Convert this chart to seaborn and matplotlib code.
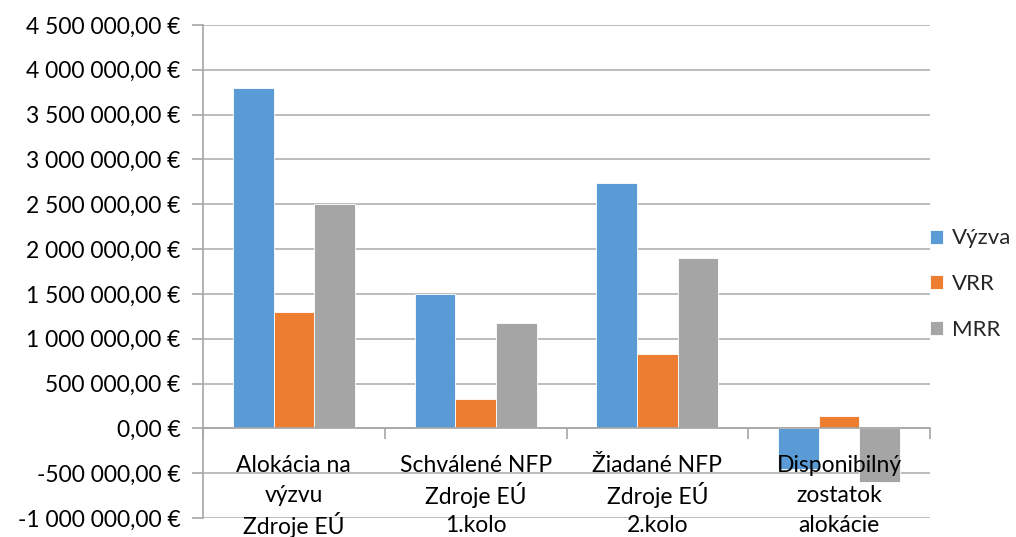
import matplotlib
matplotlib.use("Agg")
import matplotlib.pyplot as plt
import seaborn as sns
import pandas as pd
from matplotlib.ticker import FuncFormatter, MultipleLocator, FixedLocator

categories = ["Alokácia na\nvýzvu\nZdroje EÚ",
              "Schválené NFP\nZdroje EÚ\n1.kolo",
              "Žiadané NFP\nZdroje EÚ\n2.kolo",
              "Disponibilný\nzostatok\nalokácie"]
series = ["Výzva", "VRR", "MRR"]
vyzva = [3795000, 1500000, 2734000, -455000]
vrr = [1297000, 325000, 826000, 140000]
mrr = [2500000, 1172000, 1904000, -598000]
colors = ["#5B9BD5", "#ED7D31", "#A5A5A5"]

rows = []
for s, vals in zip(series, [vyzva, vrr, mrr]):
    for c, v in zip(categories, vals):
        rows.append({"cat": c, "series": s, "value": v})
df = pd.DataFrame(rows)

sns.set_style("white")
plt.rcParams["font.family"] = ["Lato", "DejaVu Sans"]

fig = plt.figure(figsize=(10.16, 5.37), dpi=100)
ax = fig.add_axes([203/1016, 1-518/537, (930-203)/1016, (518-25)/537])

sns.barplot(data=df, x="cat", y="value", hue="series", order=categories,
            hue_order=series, palette=colors, width=0.67, gap=0,
            saturation=1, ax=ax, errorbar=None, edgecolor="white", linewidth=0.6)

ax.set_ylim(-1000000, 4500000)
ax.set_xlim(-0.5, 3.5)
ax.yaxis.set_major_locator(MultipleLocator(500000))

def fmt(v, pos):
    s = f"{abs(v):,.2f}".replace(",", " ").replace(".", ",")
    return ("-" if v < 0 else "") + s + " €"
ax.yaxis.set_major_formatter(FuncFormatter(fmt))

ax.grid(axis="y", color="#ababab", linewidth=1.1)
ax.set_axisbelow(True)
ax.xaxis.set_zorder(5)
for sp in ["top", "right"]:
    ax.spines[sp].set_visible(False)
ax.spines["left"].set_color("#a6a6a6")
ax.spines["left"].set_linewidth(1.2)
ax.spines["bottom"].set_color("#a6a6a6")
ax.spines["bottom"].set_linewidth(1.2)
ax.spines["bottom"].set_position(("data", 0))

FS = 16.5
ax.tick_params(axis="y", which="major", length=8, color="#a6a6a6", width=1.2,
               labelsize=FS, labelcolor="black", pad=8, left=True)
ax.xaxis.set_minor_locator(FixedLocator([-0.5, 0.5, 1.5, 2.5, 3.5]))
ax.tick_params(axis="x", which="minor", length=8, color="#a6a6a6", width=1.2,
               direction="out", bottom=True)
ax.tick_params(axis="x", which="major", length=0, labelbottom=False)
ax.set_xlabel("")
ax.set_ylabel("")

# category labels, each line placed at even spacing below the zero line
for i, cat in enumerate(categories):
    for j, line in enumerate(cat.split("\n")):
        ax.annotate(line, xy=(i, 0), xycoords="data",
                    xytext=(0, -(37 + 30 * j)), textcoords="offset pixels",
                    ha="center", va="center", fontsize=FS, color="black",
                    zorder=10, annotation_clip=False)

handles, labels = ax.get_legend_handles_labels()
ax.legend(handles, labels, loc="center left", bbox_to_anchor=(930/1016, 1-284/537),
          bbox_transform=fig.transFigure, frameon=False, fontsize=16,
          handlelength=0.6, handleheight=0.6, handletextpad=0.4,
          labelspacing=1.15, borderaxespad=0, borderpad=0)

fig.savefig("out.png", dpi=100)
